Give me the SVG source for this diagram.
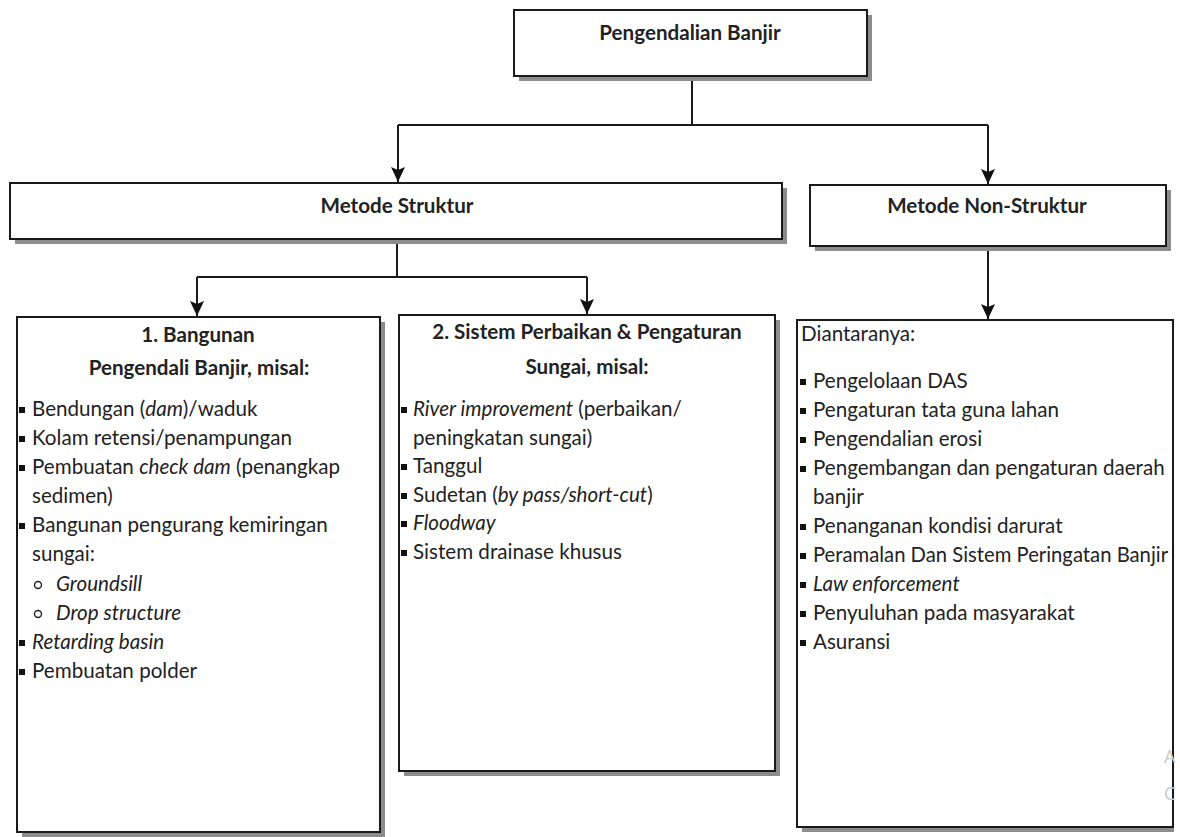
<svg xmlns="http://www.w3.org/2000/svg" width="1180" height="837" viewBox="0 0 1180 837">
<style>
.box{fill:#fff;stroke:#1a1a1a;stroke-width:2}
.shadow{fill:#8c8c8c}
.t{font-family:Lato,"Liberation Sans",sans-serif;font-size:20.6px;fill:#222}
.b{font-weight:bold}
.c{text-anchor:middle}
.i{font-style:italic}
.conn{stroke:#1a1a1a;stroke-width:2;fill:none}
.bul{fill:#111}
.sub{fill:none;stroke:#222;stroke-width:1.4}
.wm{font-family:"Open Sans","Liberation Sans",sans-serif;font-size:18px;fill:#c8c8c8}
</style>
<defs>
<marker id="arr" markerUnits="userSpaceOnUse" markerWidth="16" markerHeight="14" refX="15" refY="7" orient="auto">
<path d="M0,0 L15,7 L0,14 L3,7 z" fill="#111"/>
</marker>
</defs>

<g id="connectors">
<path class="conn" d="M692,76 V125"/>
<path class="conn" d="M398,125 H988"/>
<path class="conn" d="M398,125 V182" marker-end="url(#arr)"/>
<path class="conn" d="M988,125 V184" marker-end="url(#arr)"/>
<path class="conn" d="M397,239 V277"/>
<path class="conn" d="M197,277 H587"/>
<path class="conn" d="M197,277 V316" marker-end="url(#arr)"/>
<path class="conn" d="M587,277 V314" marker-end="url(#arr)"/>
<path class="conn" d="M988,246 V319" marker-end="url(#arr)"/>
</g>

<g id="node-root">
<rect class="shadow" x="519" y="15" width="353" height="66"/>
<rect class="box" x="514" y="10" width="353" height="66"/>
<text class="t b c" x="690" y="40">Pengendalian Banjir</text>
</g>

<g id="node-struktur">
<rect class="shadow" x="15" y="188" width="772" height="56"/>
<rect class="box" x="10" y="183" width="772" height="56"/>
<text class="t b c" x="397" y="213">Metode Struktur</text>
</g>

<g id="node-nonstruktur">
<rect class="shadow" x="815" y="190" width="356" height="61"/>
<rect class="box" x="810" y="185" width="356" height="61"/>
<text class="t b c" x="987" y="213">Metode Non-Struktur</text>
</g>

<g id="node-bangunan">
<rect class="shadow" x="22" y="322" width="363" height="515"/>
<rect class="box" x="17" y="317" width="363" height="515"/>
<text class="t b c" x="198" y="342">1. Bangunan</text>
<text class="t b c" x="199" y="375">Pengendali Banjir, misal:</text>
<rect class="bul" x="19" y="407" width="6" height="6"/>
<text class="t" x="32" y="416">Bendungan (<tspan class="i">dam</tspan>)/waduk</text>
<rect class="bul" x="19" y="436" width="6" height="6"/>
<text class="t" x="32" y="445">Kolam retensi/penampungan</text>
<rect class="bul" x="19" y="465" width="6" height="6"/>
<text class="t" x="32" y="474">Pembuatan <tspan class="i">check dam</tspan> (penangkap</text>
<text class="t" x="32" y="503">sedimen)</text>
<rect class="bul" x="19" y="523" width="6" height="6"/>
<text class="t" x="32" y="532">Bangunan pengurang kemiringan</text>
<text class="t" x="32" y="561">sungai:</text>
<circle class="sub" cx="38" cy="585" r="3.5"/>
<text class="t i" x="56" y="591">Groundsill</text>
<circle class="sub" cx="38" cy="614" r="3.5"/>
<text class="t i" x="56" y="620">Drop structure</text>
<rect class="bul" x="19" y="640" width="6" height="6"/>
<text class="t i" x="32" y="649">Retarding basin</text>
<rect class="bul" x="19" y="669" width="6" height="6"/>
<text class="t" x="32" y="678">Pembuatan polder</text>
</g>

<g id="node-perbaikan">
<rect class="shadow" x="404" y="320" width="376" height="456"/>
<rect class="box" x="399" y="315" width="376" height="456"/>
<text class="t b c" x="587" y="339">2. Sistem Perbaikan &amp; Pengaturan</text>
<text class="t b c" x="587" y="374">Sungai, misal:</text>
<rect class="bul" x="401" y="407" width="6" height="6"/>
<text class="t" x="413" y="416"><tspan class="i">River improvement</tspan> (perbaikan/</text>
<text class="t" x="413" y="445">peningkatan sungai)</text>
<rect class="bul" x="401" y="464" width="6" height="6"/>
<text class="t" x="413" y="473">Tanggul</text>
<rect class="bul" x="401" y="493" width="6" height="6"/>
<text class="t" x="413" y="502">Sudetan (<tspan class="i">by pass/short-cut</tspan>)</text>
<rect class="bul" x="401" y="521" width="6" height="6"/>
<text class="t i" x="413" y="530">Floodway</text>
<rect class="bul" x="401" y="550" width="6" height="6"/>
<text class="t" x="413" y="559">Sistem drainase khusus</text>
</g>

<g id="node-diantaranya">
<rect class="shadow" x="802" y="325" width="372" height="507"/>
<rect class="box" x="797" y="320" width="376" height="507"/>
<text class="t" x="801" y="341">Diantaranya:</text>
<rect class="bul" x="800" y="379" width="6" height="6"/>
<text class="t" x="813" y="388">Pengelolaan DAS</text>
<rect class="bul" x="800" y="408" width="6" height="6"/>
<text class="t" x="813" y="417">Pengaturan tata guna lahan</text>
<rect class="bul" x="800" y="437" width="6" height="6"/>
<text class="t" x="813" y="446">Pengendalian erosi</text>
<rect class="bul" x="800" y="466" width="6" height="6"/>
<text class="t" x="813" y="475">Pengembangan dan pengaturan daerah</text>
<text class="t" x="813" y="504">banjir</text>
<rect class="bul" x="800" y="524" width="6" height="6"/>
<text class="t" x="813" y="533">Penanganan kondisi darurat</text>
<rect class="bul" x="800" y="553" width="6" height="6"/>
<text class="t" x="813" y="562" textLength="355" lengthAdjust="spacingAndGlyphs">Peramalan Dan Sistem Peringatan Banjir</text>
<rect class="bul" x="800" y="582" width="6" height="6"/>
<text class="t i" x="813" y="591">Law enforcement</text>
<rect class="bul" x="800" y="611" width="6" height="6"/>
<text class="t" x="813" y="620">Penyuluhan pada masyarakat</text>
<rect class="bul" x="800" y="640" width="6" height="6"/>
<text class="t" x="813" y="649">Asuransi</text>
</g>

<text class="wm" x="1164" y="763">A</text>
<text class="wm" x="1164" y="800">C</text>
</svg>
